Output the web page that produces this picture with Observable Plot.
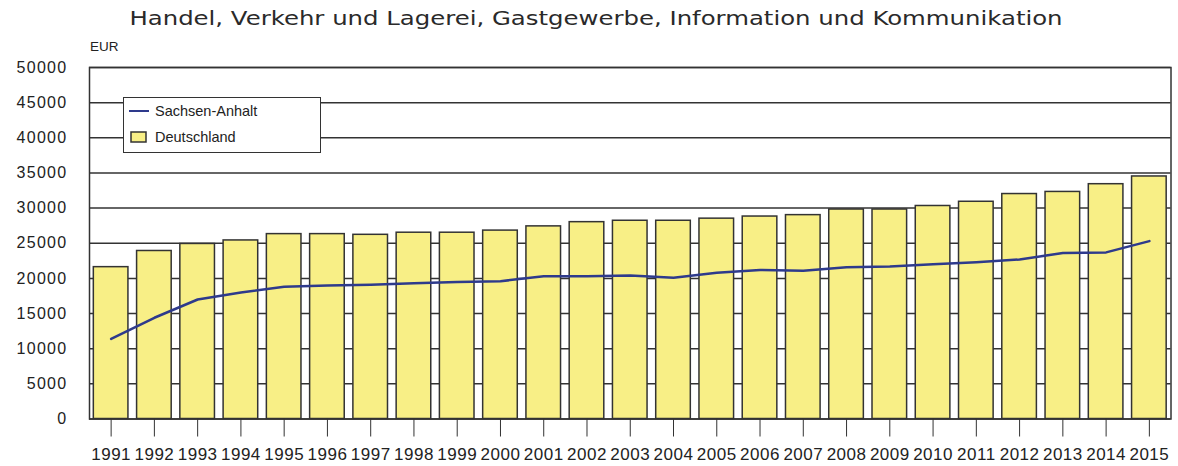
<!DOCTYPE html>
<html><head><meta charset="utf-8">
<script src="https://cdn.jsdelivr.net/npm/d3@7"></script>
<script src="https://cdn.jsdelivr.net/npm/@observablehq/plot@0.6"></script>
<style>
body{margin:0;background:#fff;}
#wrap{position:relative;width:1178px;height:466px;font-family:"Liberation Sans",Arial,sans-serif;color:#222;overflow:hidden;}
#title{position:absolute;left:0;width:1192px;top:7px;text-align:center;font-family:"DejaVu Sans",Verdana,sans-serif;font-size:19.5px;color:#2a2a2a;white-space:nowrap;transform:scaleX(1.25);transform-origin:596px 50%;}
#unit{position:absolute;left:90px;top:39px;font-size:13.5px;}
#legend{position:absolute;left:123px;top:97px;width:198px;height:56px;border:1.5px solid #333;background:#fff;box-sizing:border-box;font-size:14.5px;}
.li{position:absolute;left:0;height:20px;line-height:20px;}
.li span{position:absolute;left:31px;white-space:nowrap;}
#chart{position:absolute;left:0;top:0;}
.xax text{font-size:17px;letter-spacing:0.5px;}
.yax text{font-size:16px;letter-spacing:1.3px;}
</style></head>
<body>
<div id="wrap">
<div id="chart"></div>
<div id="title">Handel, Verkehr und Lagerei, Gastgewerbe, Information und Kommunikation</div>
<div id="unit">EUR</div>
<div id="legend">
  <div class="li" style="top:3px;"><svg width="28" height="20" style="position:absolute;left:3px;top:0"><line x1="2" x2="22" y1="10" y2="10" stroke="#2e3a8c" stroke-width="2"/></svg><span>Sachsen-Anhalt</span></div>
  <div class="li" style="top:29px;"><svg width="28" height="20" style="position:absolute;left:3px;top:0"><rect x="4" y="5" width="15" height="10" fill="#f8ef86" stroke="#333" stroke-width="1.5"/></svg><span>Deutschland</span></div>
</div>
</div>
<script>
const years = [1991,1992,1993,1994,1995,1996,1997,1998,1999,2000,2001,2002,2003,2004,2005,2006,2007,2008,2009,2010,2011,2012,2013,2014,2015];
const deutschland = [21600,23900,24900,25400,26300,26300,26200,26500,26500,26800,27400,28000,28200,28200,28500,28800,29000,29800,29800,30300,30900,32000,32300,33400,34500];
const sachsenAnhalt = [11400,14400,17000,18000,18800,19000,19100,19300,19500,19600,20300,20300,20400,20100,20800,21200,21100,21600,21700,22000,22300,22700,23600,23700,25300];
const yTicks = [0,5000,10000,15000,20000,25000,30000,35000,40000,45000,50000];

const data = years.map((y, i) => ({year: String(y), de: deutschland[i], sa: sachsenAnhalt[i]}));

const chart = Plot.plot({
  width: 1178, height: 466,
  marginLeft: 89, marginRight: 7.5, marginTop: 67, marginBottom: 47.5,
  style: {fontFamily: '"Liberation Sans", Arial, sans-serif', fontSize: "16px", color: "#222", background: "transparent"},
  x: {type: "band", domain: years.map(String), paddingInner: 0.2, paddingOuter: 0.1, round: false, label: null},
  y: {domain: [0, 50000], label: null},
  marks: [
    Plot.gridY(yTicks, {stroke: "#333", strokeOpacity: 1, strokeWidth: 1.5}),
    Plot.barY(data, {x: "year", y: "de", fill: "#f8ef86", stroke: "#333", strokeWidth: 1.5}),
    Plot.line(data, {x: "year", y: "sa", stroke: "#2e3a8c", strokeWidth: 2.5}),
    Plot.frame({stroke: "#333", strokeWidth: 1.5}),
    Plot.axisX({tickSize: 18, tickPadding: 11, stroke: "#333", label: null, className: "xax"}),
    Plot.axisY(yTicks, {tickSize: 0, tickPadding: 22, tickFormat: d => String(d), label: null, className: "yax"})
  ]
});
document.getElementById("chart").appendChild(chart);
</script>
</body></html>
